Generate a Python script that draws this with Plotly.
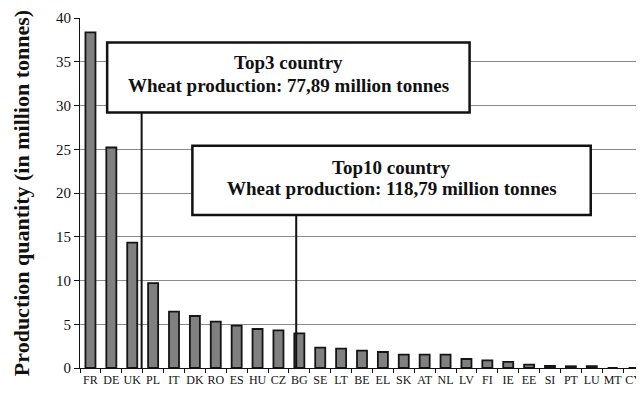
import plotly.graph_objects as go

countries = ["FR", "DE", "UK", "PL", "IT", "DK", "RO", "ES", "HU", "CZ", "BG", "SE", "LT", "BE",
             "EL", "SK", "AT", "NL", "LV", "FI", "IE", "EE", "SI", "PT", "LU", "MT", "CY"]
production = [38.35, 25.2, 14.34, 9.7, 6.44, 5.94, 5.3, 4.84, 4.46, 4.3, 3.96, 2.32, 2.21, 1.98,
              1.83, 1.52, 1.52, 1.52, 1.03, 0.88, 0.69, 0.38, 0.23, 0.2, 0.22, 0.0, 0.0]
y_ticks = [0, 5, 10, 15, 20, 25, 30, 35, 40]
box_titles = ["Top3 country", "Top10 country"]
box_lines = ["Wheat production: 77,89 million tonnes", "Wheat production: 118,79 million tonnes"]

SERIF = "Liberation Serif, Times New Roman, serif"

fig = go.Figure()
fig.add_trace(go.Bar(
    x=countries, y=production,
    marker=dict(color="#808080", line=dict(color="#151515", width=1.8)),
    width=0.48,
))

# annotation boxes (x in category index, y in data units)
boxes = [
    dict(x0=0.8, x1=18.15, y0=29.2, y1=37.2, lx=2.45, ty=(34.86, 32.34)),
    dict(x0=4.88, x1=23.95, y0=17.5, y1=25.4, lx=9.85, ty=(22.97, 20.46)),
]
for i, b in enumerate(boxes):
    fig.add_shape(type="line", xref="x", yref="y", x0=b["lx"], x1=b["lx"], y0=0, y1=b["y0"],
                  line=dict(color="#111111", width=2))
    fig.add_shape(type="rect", xref="x", yref="y", x0=b["x0"], x1=b["x1"], y0=b["y0"], y1=b["y1"],
                  line=dict(color="#111111", width=2.5), fillcolor="white", layer="above")
    cx = (b["x0"] + b["x1"]) / 2
    for txt, ty in zip([box_titles[i], box_lines[i]], b["ty"]):
        fig.add_annotation(x=cx, y=ty, xref="x", yref="y",
                           text="<b>" + txt + "</b>", showarrow=False,
                           font=dict(family=SERIF, size=19, color="#111111"), align="center")

fig.update_layout(
    width=636, height=386,
    margin=dict(l=72, r=0, t=10, b=26),
    paper_bgcolor="white", plot_bgcolor="white",
    showlegend=False,
    bargap=0.5,
    xaxis=dict(
        type="category", range=[-0.5, 26.5], automargin=False,
        showline=True, linecolor="#111111", linewidth=1.2,
        ticks="outside", tickson="boundaries", ticklen=4, tickcolor="#111111",
        tickangle=0,
        tickfont=dict(family=SERIF, size=12, color="#111111"),
        showgrid=False,
    ),
    yaxis=dict(
        range=[0, 40], tickvals=y_ticks, automargin=False,
        showline=True, linecolor="#111111", linewidth=1.2,
        ticks="outside", ticklen=5, tickcolor="#111111",
        tickfont=dict(family=SERIF, size=15, color="#111111"),
        showgrid=True, gridcolor="#8a8a8a", gridwidth=1,
        zeroline=False,
        title=dict(text="<b>Production quantity (in million tonnes)</b>",
                   font=dict(family=SERIF, size=22, color="#111111"), standoff=20),
    ),
)

fig.write_html("out.html")
